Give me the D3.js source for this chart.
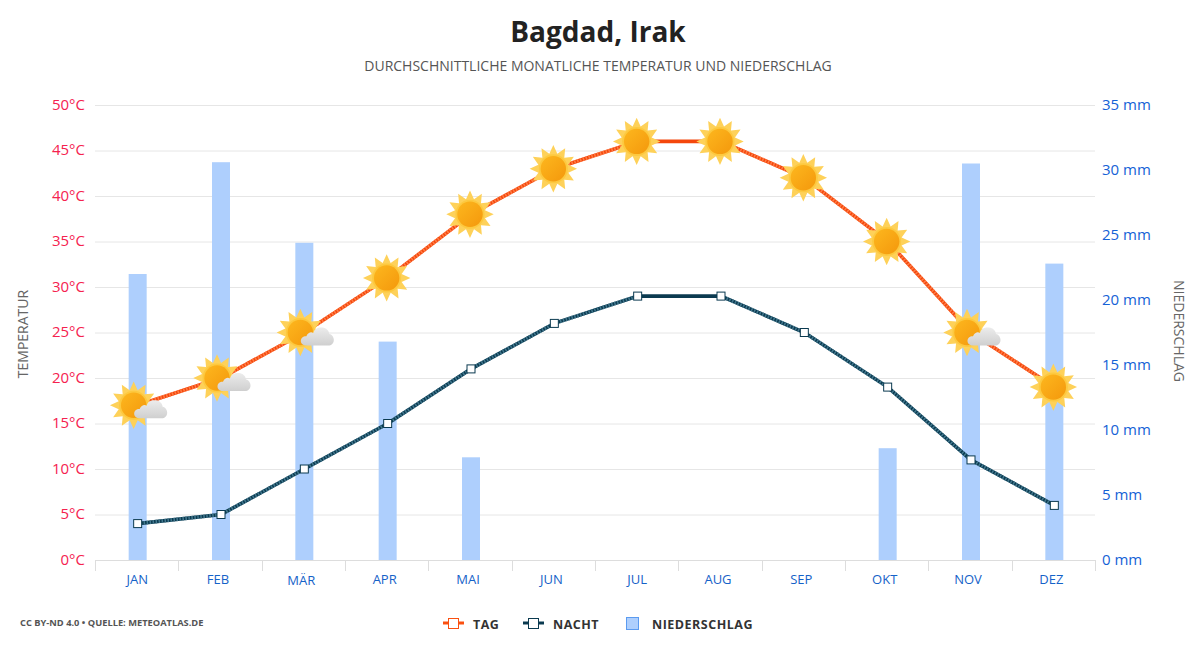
<!DOCTYPE html>
<html>
<head>
<meta charset="utf-8">
<script src="https://cdn.jsdelivr.net/npm/d3@7"></script>
<style>
  body { margin: 0; background: #fff; }
  text { font-family: "Open Sans", "Noto Sans", sans-serif; }
</style>
</head>
<body>
<div id="chart"></div>
<script>
var months = ["JAN", "FEB", "MÄR", "APR", "MAI", "JUN", "JUL", "AUG", "SEP", "OKT", "NOV", "DEZ"];
var tag = [17, 20, 25, 31, 38, 43, 46, 46, 42, 35, 25, 19];
var nacht = [4, 5, 10, 15, 21, 26, 29, 29, 25, 19, 11, 6];
var niederschlag = [22, 30.6, 24.4, 16.8, 7.9, 0, 0, 0, 0, 8.6, 30.5, 22.8];
// weather icon per month: true = sun with small cloud
var wolke = [true, true, true, false, false, false, false, false, false, false, true, false];
var tempTicks = [0, 5, 10, 15, 20, 25, 30, 35, 40, 45, 50];
var mmTicks = [0, 5, 10, 15, 20, 25, 30, 35];

var svg = d3.select("#chart").append("svg")
    .attr("width", 1200)
    .attr("height", 650);

var x = d3.scaleBand().domain(months).range([95, 1095]);
var yT = d3.scaleLinear().domain([0, 50]).range([560, 105]);
var yP = d3.scaleLinear().domain([0, 35]).range([560, 105]);
var cx = d => x(d) + x.bandwidth() / 2 + 1;

// gradients for the icons
var defs = svg.append("defs");
var g1 = defs.append("linearGradient").attr("id", "sonne").attr("x1", 0).attr("y1", 0).attr("x2", 1).attr("y2", 1);
g1.append("stop").attr("offset", "0%").attr("stop-color", "#fdb71e");
g1.append("stop").attr("offset", "100%").attr("stop-color", "#f4980c");
var g2 = defs.append("linearGradient").attr("id", "wolke").attr("x1", 0).attr("y1", 0).attr("x2", 0).attr("y2", 1);
g2.append("stop").attr("offset", "0%").attr("stop-color", "#ececec");
g2.append("stop").attr("offset", "100%").attr("stop-color", "#cfcfcf");

// title
svg.append("text").attr("x", 598).attr("y", 42).attr("text-anchor", "middle")
    .attr("font-size", 28).attr("font-weight", 700).attr("fill", "#222").text("Bagdad, Irak");
svg.append("text").attr("x", 598).attr("y", 71).attr("text-anchor", "middle")
    .attr("font-size", 14).attr("fill", "#555").text("DURCHSCHNITTLICHE MONATLICHE TEMPERATUR UND NIEDERSCHLAG");

// grid
svg.append("g").selectAll("line")
    .data(tempTicks.slice(1))
    .enter().append("line")
    .attr("x1", 95).attr("x2", 1095)
    .attr("y1", d => yT(d) + 0.5).attr("y2", d => yT(d) + 0.5)
    .attr("stroke", "#e6e6e6");

// bars
svg.append("g").selectAll("rect")
    .data(niederschlag)
    .enter().append("rect")
    .attr("x", (d, i) => cx(months[i]) - 9)
    .attr("width", 18)
    .attr("y", d => yP(d))
    .attr("height", d => yP(0) - yP(d))
    .attr("fill", "#aecffd");

// axes
var leftAxis = d3.axisLeft(yT).tickValues(tempTicks).tickSize(0).tickPadding(0).tickFormat(d => d + "°C");
var gl = svg.append("g").attr("transform", "translate(85,-0.5)").call(leftAxis);
gl.select(".domain").remove();
gl.selectAll("text").attr("font-size", 15).attr("fill", "#f5224f").style("font-family", '"Open Sans"');

var rightAxis = d3.axisRight(yP).tickValues(mmTicks).tickSize(0).tickPadding(0).tickFormat(d => d + " mm");
var gr = svg.append("g").attr("transform", "translate(1102,0)").call(rightAxis);
gr.select(".domain").remove();
gr.selectAll("text").attr("font-size", 15).attr("fill", "#1562d6").style("font-family", '"Open Sans"');

var bottomAxis = d3.axisBottom(x).tickSize(0).tickPadding(0);
var gb = svg.append("g").attr("transform", "translate(0,560)").call(bottomAxis);
gb.select(".domain").remove();
gb.selectAll("text").attr("font-size", 13).attr("fill", "#1562c8").style("font-family", '"Open Sans"')
    .attr("y", 11)
    .attr("dx", d => d == "JAN" || d == "JUL" ? 0.5 : -2)
    .attr("dy", d => d == "MÄR" ? "1.08em" : "0.98em");

// x baseline and band separators
svg.append("line").attr("x1", 95).attr("x2", 1095).attr("y1", 560.5).attr("y2", 560.5).attr("stroke", "#ddd");
svg.append("g").selectAll("line")
    .data(months.concat(["end"]))
    .enter().append("line")
    .attr("x1", (d, i) => Math.round(95 + i * x.bandwidth()) + 0.5)
    .attr("x2", (d, i) => Math.round(95 + i * x.bandwidth()) + 0.5)
    .attr("y1", 560).attr("y2", 571)
    .attr("stroke", "#ddd");

// axis titles
svg.append("text").attr("transform", "translate(28,334) rotate(-90)").attr("text-anchor", "middle")
    .attr("font-size", 14).attr("fill", "#666").text("TEMPERATUR");
svg.append("text").attr("transform", "translate(1174,331) rotate(90)").attr("text-anchor", "middle")
    .attr("font-size", 14).attr("fill", "#666").text("NIEDERSCHLAG");

// lines: solid base, plus a fine hatch on the sloped segments
var lineT = d3.line().x((d, i) => cx(months[i])).y(d => yT(d));
function zeichneLinie(werte, farbe, hell) {
    svg.append("path").datum(werte).attr("d", lineT).attr("fill", "none")
        .attr("stroke", farbe).attr("stroke-width", 3.6);
    svg.append("g").selectAll("line")
        .data(d3.pairs(werte).map((p, i) => ({ a: p[0], b: p[1], i: i })).filter(s => s.a != s.b))
        .enter().append("line")
        .attr("x1", s => cx(months[s.i])).attr("y1", s => yT(s.a))
        .attr("x2", s => cx(months[s.i + 1])).attr("y2", s => yT(s.b))
        .attr("stroke", hell).attr("stroke-width", 3.6).attr("stroke-dasharray", "1.5 1.5");
}
zeichneLinie(nacht, "#0b3a50", "#42788e");
zeichneLinie(tag, "#f4470c", "#ff7c45");

// night markers
svg.append("g").selectAll("rect")
    .data(nacht)
    .enter().append("rect")
    .attr("x", (d, i) => cx(months[i]) - 4)
    .attr("y", d => yT(d) - 4)
    .attr("width", 8).attr("height", 8)
    .attr("fill", "#fff").attr("stroke", "#0b3a50").attr("stroke-width", 1);

// sun icon: 12 ray star, ring, disc
var strahlen = d3.range(24).map(i => {
    var r = i % 2 == 0 ? 23.7 : 15.5;
    var a = i * Math.PI / 12;
    return [r * Math.sin(a), -r * Math.cos(a)];
});
var icons = svg.append("g").selectAll("g")
    .data(tag)
    .enter().append("g")
    .attr("transform", (d, i) => "translate(" + (cx(months[i]) - 1 - (wolke[i] ? 3 : 0)) + "," + yT(d) + ")");
icons.append("polygon").attr("points", strahlen.join(" ")).attr("fill", "#fed159");
icons.append("circle").attr("r", 14.5).attr("fill", "#fdc93f");
icons.append("circle").attr("r", 12.7).attr("fill", "url(#sonne)");

// small cloud, drawn only on the cloudy months
var clouds = icons.filter((d, i) => wolke[i]).append("path")
    .attr("d", "M6,13 C2,13 0.5,10.5 0.5,8.5 C0.5,5.5 3,3.5 6,3.7 C8,-0.5 11,-0.8 13,0.5 C14,-4 18,-5.5 22,-5 C26,-4.5 28.5,-2 29,1.5 C32,2 33.5,5 33.5,7.5 C33.5,11 31,13 28,13 Z")
    .attr("fill", "url(#wolke)");

// footer
svg.append("text").attr("x", 20).attr("y", 626).attr("font-size", 9.3).attr("font-weight", 700)
    .attr("fill", "#555").text("CC BY-ND 4.0 • QUELLE: METEOATLAS.DE");

// legend
var legende = [
    { name: "TAG", farbe: "#fa5010", lx: 443, tx: 473 },
    { name: "NACHT", farbe: "#0b3a50", lx: 523, tx: 553 }
];
var lg = svg.append("g").selectAll("g").data(legende).enter().append("g");
lg.append("line").attr("x1", d => d.lx).attr("x2", d => d.lx + 21).attr("y1", 623).attr("y2", 623)
    .attr("stroke", d => d.farbe).attr("stroke-width", 3);
lg.append("rect").attr("x", d => d.lx + 5.5).attr("y", 618.5).attr("width", 10).attr("height", 10)
    .attr("fill", "#fff").attr("stroke", d => d.farbe).attr("stroke-width", 1);
lg.append("text").attr("x", d => d.tx).attr("y", 629).attr("font-size", 12.5).attr("font-weight", 700)
    .attr("letter-spacing", 0.5).attr("fill", "#333").text(d => d.name);
svg.append("rect").attr("x", 626.5).attr("y", 617.5).attr("width", 12).attr("height", 12)
    .attr("fill", "#aecffd").attr("stroke", "#5b9bf0").attr("stroke-width", 1);
svg.append("text").attr("x", 652).attr("y", 629).attr("font-size", 12.5).attr("font-weight", 700)
    .attr("letter-spacing", 0.5).attr("fill", "#333").text("NIEDERSCHLAG");
</script>
</body>
</html>
